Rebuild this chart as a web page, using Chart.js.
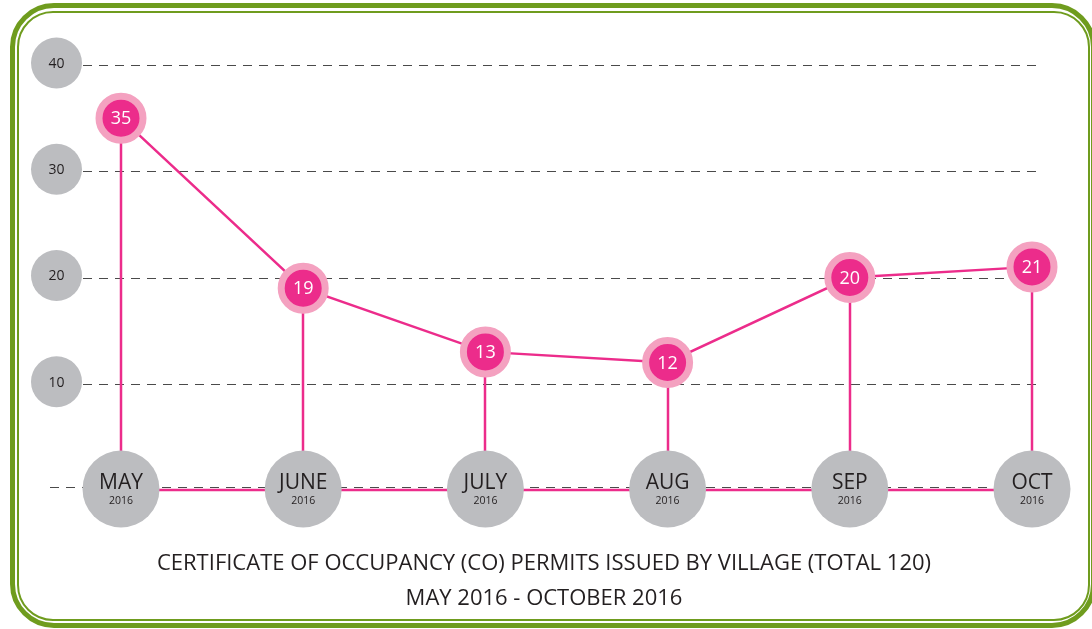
<!DOCTYPE html>
<html>
<head>
<meta charset="utf-8">
<script src="https://cdn.jsdelivr.net/npm/chart.js@4.4.1/dist/chart.umd.min.js"></script>
<style>
  html, body { margin: 0; padding: 0; background: #fff; overflow: hidden; }
  #wrap { position: relative; width: 1092px; height: 629px; }
  #outer { position: absolute; left: 10px; top: 3px; width: 1086px; height: 625px; box-sizing: border-box;
           border: 5px solid #6f9c1e; border-radius: 44px; }
  #inner { position: absolute; left: 17px; top: 11px; width: 1073px; height: 610px; box-sizing: border-box;
           border: 2px solid #6f9c1e; border-radius: 36px; }
  canvas { position: absolute; left: 0; top: 0; }
  .title { position: absolute; left: 0; width: 1092px; text-align: center; font-family: "Open Sans", "Noto Sans", sans-serif;
           font-size: 22px; color: #231f20; line-height: 26px; }
</style>
</head>
<body>
<div id="wrap">
  <div id="outer"></div>
  <div id="inner"></div>
  <canvas id="c" width="1092" height="629"></canvas>
  <div class="title" style="top:548px; left:-2px;">CERTIFICATE OF OCCUPANCY (CO) PERMITS ISSUED BY VILLAGE (TOTAL 120)</div>
  <div class="title" style="top:583px; left:-2px;">MAY 2016 - OCTOBER 2016</div>
</div>
<script>
const months = ["MAY", "JUNE", "JULY", "AUG", "SEP", "OCT"];
const years = ["2016", "2016", "2016", "2016", "2016", "2016"];
const permits = [35, 19, 13, 12, 20, 21];
const baseline = [0, 0, 0, 0, 0, 0];
const yTicks = [10, 20, 30, 40];

const PINK = "#ec2c8b";
const PINK_RING = "#f4a1c0";
const GRAY = "#bcbdc0";
const TEXT = "#231f20";
const FONT = '"Open Sans", "Noto Sans", sans-serif';

const decorPlugin = {
  id: "decor",
  beforeDatasetsDraw(chart) {
    const ctx = chart.ctx;
    const x = chart.scales.x, y = chart.scales.y;
    ctx.save();
    // dashed grid lines
    ctx.strokeStyle = "#4a4a4a";
    ctx.lineWidth = 1.2;
    ctx.setLineDash([9, 7]);
    yTicks.forEach(t => {
      const py = Math.round(y.getPixelForValue(t)) + 0.5;
      ctx.beginPath(); ctx.moveTo(83, py); ctx.lineTo(1037, py); ctx.stroke();
    });
    const p0 = Math.round(y.getPixelForValue(0)) - 2.5;
    ctx.beginPath(); ctx.moveTo(50, p0); ctx.lineTo(1000, p0); ctx.stroke();
    ctx.setLineDash([]);
    // drop lines
    ctx.strokeStyle = PINK;
    ctx.lineWidth = 2.5;
    permits.forEach((v, i) => {
      const px = Math.round(x.getPixelForValue(i));
      ctx.beginPath(); ctx.moveTo(px, y.getPixelForValue(v)); ctx.lineTo(px, y.getPixelForValue(0)); ctx.stroke();
    });
    // y tick circles
    yTicks.forEach(t => {
      const py = y.getPixelForValue(t);
      ctx.fillStyle = GRAY;
      ctx.beginPath(); ctx.arc(56.5, py - 2, 25.5, 0, Math.PI * 2); ctx.fill();
      ctx.fillStyle = TEXT;
      ctx.font = "14px " + FONT;
      ctx.textAlign = "center"; ctx.textBaseline = "middle";
      ctx.fillText(String(t), 56.5, py - 1);
    });
    ctx.restore();
  },
  afterDatasetsDraw(chart) {
    const ctx = chart.ctx;
    const x = chart.scales.x, y = chart.scales.y;
    ctx.save();
    // category circles
    months.forEach((m, i) => {
      const px = x.getPixelForValue(i);
      const py = y.getPixelForValue(0);
      ctx.fillStyle = GRAY;
      ctx.beginPath(); ctx.arc(px, py - 1, 38.5, 0, Math.PI * 2); ctx.fill();
      ctx.fillStyle = TEXT;
      ctx.textAlign = "center"; ctx.textBaseline = "middle";
      ctx.font = "21px " + FONT;
      ctx.fillText(m, px, py - 7);
      ctx.font = "10.5px " + FONT;
      ctx.fillText(years[i], px, py + 11);
    });
    // value labels
    const meta = chart.getDatasetMeta(1);
    meta.data.forEach((pt, i) => {
      ctx.fillStyle = "#fff";
      ctx.font = "18px " + FONT;
      ctx.textAlign = "center"; ctx.textBaseline = "middle";
      ctx.fillText(String(permits[i]), pt.x, pt.y + 1);
    });
    ctx.restore();
  }
};

new Chart(document.getElementById("c"), {
  type: "line",
  data: {
    labels: months,
    datasets: [
      {
        data: baseline,
        borderColor: PINK,
        borderWidth: 2.5,
        pointRadius: 0,
        clip: false,
        order: 2
      },
      {
        data: permits,
        borderColor: PINK,
        borderWidth: 2.5,
        pointRadius: 22,
        pointBorderWidth: 7,
        pointBackgroundColor: PINK,
        pointBorderColor: PINK_RING,
        pointHoverRadius: 22,
        clip: false,
        order: 1
      }
    ]
  },
  options: {
    responsive: false,
    animation: false,
    events: [],
    layout: { padding: { left: 121, right: 60, top: 65, bottom: 139 } },
    plugins: { legend: { display: false }, tooltip: { enabled: false } },
    scales: {
      x: { display: false, offset: false },
      y: { display: false, min: 0, max: 40, ticks: { stepSize: 10 } }
    }
  },
  plugins: [decorPlugin]
});
</script>
</body>
</html>
